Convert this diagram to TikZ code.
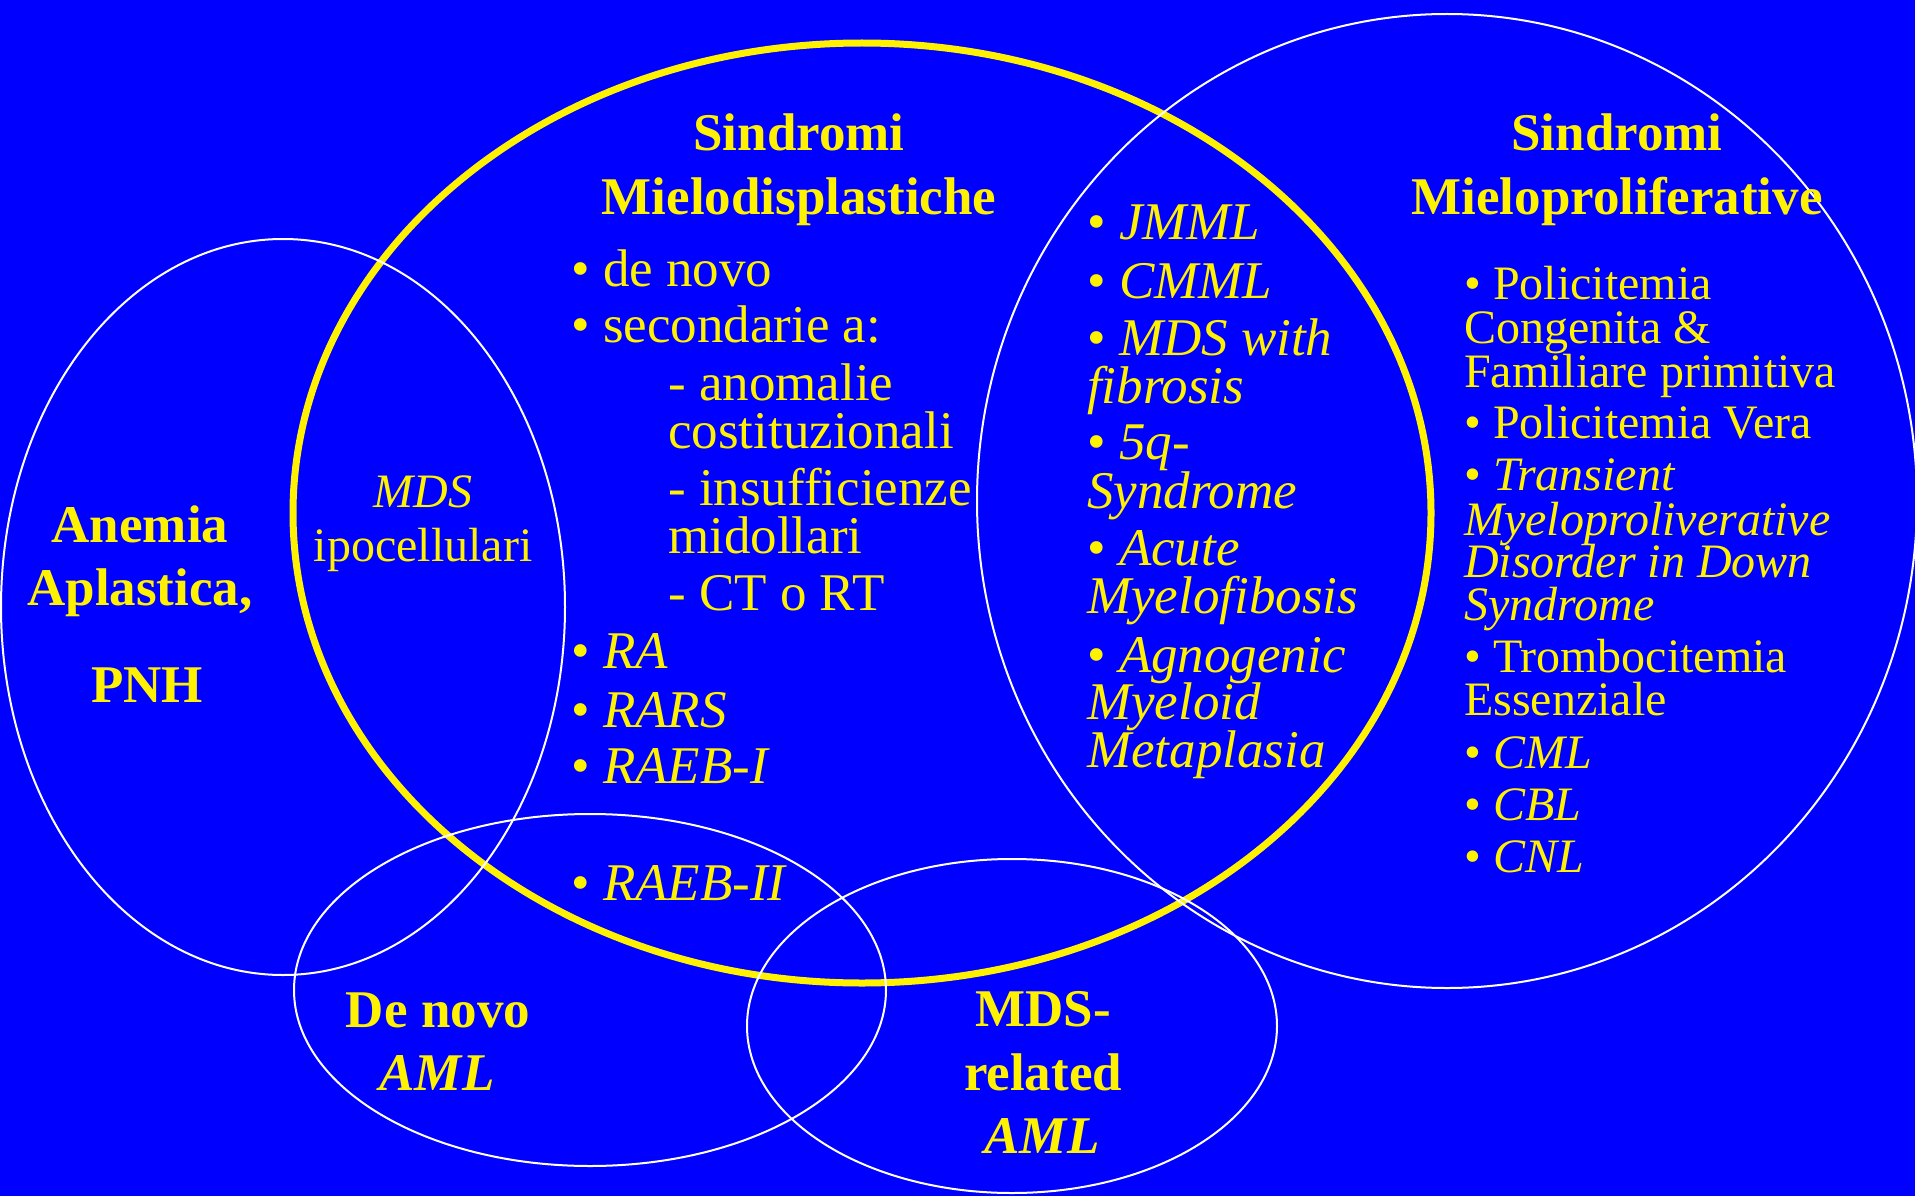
\documentclass[tikz,border=0pt]{standalone}
\usepackage{fontspec}
\setmainfont{Liberation Serif}
\begin{document}
\begin{tikzpicture}[x=1pt,y=-1pt,
  big/.style={font=\fontsize{53}{53}\selectfont},
  small/.style={font=\fontsize{48}{48}\selectfont},
  lbl/.style={anchor=base west, inner sep=0pt, text=yellow},
  ctr/.style={anchor=base, inner sep=0pt, text=yellow},
  ring/.style={draw=white, line width=2pt},
  mainring/.style={draw=yellow, line width=7pt},
]
\fill[blue] (0,0) rectangle (1915,1196);
\useasboundingbox (0,0) rectangle (1915,1196);
% circles
\draw[mainring] (862,513) ellipse [x radius=569, y radius=470];
\draw[ring] (283,607) ellipse [x radius=282, y radius=368];
\draw[ring] (1447,501) ellipse [x radius=470, y radius=487];
\draw[ring] (590,990) ellipse [x radius=296, y radius=176];
\draw[ring] (1012,1026) ellipse [x radius=265, y radius=167];
% MDS title and list
\node[ctr,big] (t1a) at (799,151) {\bfseries Sindromi};
\node[ctr,big] (t1b) at (799,214) {\bfseries Mielodisplastiche};
\node[lbl,big] (l1) at (571,286) {• de novo};
\node[lbl,big] (l2) at (571,342) {• secondarie a:};
\node[lbl,big] (l3) at (668,400) {- anomalie};
\node[lbl,big] (l4) at (668,448) {costituzionali};
\node[lbl,big] (l5) at (668,505) {- insufficienze};
\node[lbl,big] (l6) at (668,553) {midollari};
\node[lbl,big] (l7) at (668,610) {- CT o RT};
\node[lbl,big] (l8) at (571,668) {• \textit{RA}};
\node[lbl,big] (l9) at (571,727) {• \textit{RARS}};
\node[lbl,big] (l10) at (571,783) {• \textit{RAEB-I}};
\node[lbl,big] (l11) at (571,900) {• \textit{RAEB-II}};
% overlap column
\node[lbl,big] (m1) at (1087,239) {• \textit{JMML}};
\node[lbl,big] (m2) at (1087,298) {• \textit{CMML}};
\node[lbl,big] (m3) at (1087,355) {• \textit{MDS with}};
\node[lbl,big] (m4) at (1087,403) {\textit{fibrosis}};
\node[lbl,big] (m5) at (1087,459) {• \textit{5q-}};
\node[lbl,big] (m6) at (1087,508) {\textit{Syndrome}};
\node[lbl,big] (m7) at (1087,565) {• \textit{Acute}};
\node[lbl,big] (m8) at (1087,613) {\textit{Myelofibosis}};
\node[lbl,big] (m9) at (1087,672) {• \textit{Agnogenic}};
\node[lbl,big] (m10) at (1087,719) {\textit{Myeloid}};
\node[lbl,big] (m11) at (1087,767) {\textit{Metaplasia}};
% MPD title and list
\node[ctr,big] (t2a) at (1617,151) {\bfseries Sindromi};
\node[ctr,big] (t2b) at (1617,214) {\bfseries Mieloproliferative};
\node[lbl,small] (r1) at (1464,299) {• Policitemia};
\node[lbl,small] (r2) at (1464,343) {Congenita \&};
\node[lbl,small] (r3) at (1464,387) {Familiare primitiva};
\node[lbl,small] (r4) at (1464,438) {• Policitemia Vera};
\node[lbl,small] (r5) at (1464,490) {• \textit{Transient}};
\node[lbl,small] (r6) at (1464,535) {\textit{Myeloproliverative}};
\node[lbl,small] (r7) at (1464,577) {\textit{Disorder in Down}};
\node[lbl,small] (r8) at (1464,620) {\textit{Syndrome}};
\node[lbl,small] (r9) at (1464,672) {• Trombocitemia};
\node[lbl,small] (r10) at (1464,715) {Essenziale};
\node[lbl,small] (r11) at (1464,768) {• \textit{CML}};
\node[lbl,small] (r12) at (1464,820) {• \textit{CBL}};
\node[lbl,small] (r13) at (1464,872) {• \textit{CNL}};
% MDS ipocellulari
\node[ctr,small] (h1) at (423,507) {\textit{MDS}};
\node[ctr,small] (h2) at (423,561) {ipocellulari};
% Anemia aplastica
\node[ctr,big] (a1) at (140,542) {\bfseries Anemia};
\node[ctr,big] (a2) at (140,605) {\bfseries Aplastica,};
\node[ctr,big] (a3) at (147,702) {\bfseries PNH};
% AML
\node[ctr,big] (d1) at (438,1027) {\bfseries De novo};
\node[ctr,big] (d2) at (437,1090) {\bfseries\itshape AML};
\node[ctr,big] (s1) at (1043,1026) {\bfseries MDS-};
\node[ctr,big] (s2) at (1043,1090) {\bfseries related};
\node[ctr,big] (s3) at (1042,1153) {\bfseries\itshape AML};
\end{tikzpicture}
\end{document}
